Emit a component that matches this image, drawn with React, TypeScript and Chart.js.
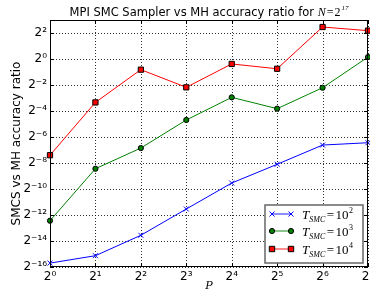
import React, { useEffect, useRef } from "react";
import { Chart, registerables } from "chart.js";

Chart.register(...registerables);

const pLabels = ["2⁰", "2¹", "2²", "2³", "2⁴", "2⁵", "2⁶", "2⁷"];
const yTicks = [-16, -14, -12, -10, -8, -6, -4, -2, 0, 2];
// log2 of the accuracy ratio
const log2RatioT2 = [-15.7, -15.13, -13.56, -11.54, -9.54, -8.1, -6.62, -6.44];
const log2RatioT3 = [-12.44, -8.44, -6.85, -4.69, -2.95, -3.82, -2.21, 0.15];
const log2RatioT4 = [-7.4, -3.34, -0.82, -2.18, -0.38, -0.75, 2.46, 2.18];
const seriesExp = ["2", "3", "4"];

const SUP: Record<string, string> = {
  "0": "⁰", "1": "¹", "2": "²", "3": "³", "4": "⁴", "5": "⁵", "6": "⁶", "7": "⁷", "8": "⁸", "9": "⁹", "-": "⁻",
};
const toSup = (s: string) => s.split("").map((c) => SUP[c] || c).join("");

type Seg = { t: string; f: string; dy?: number; gap?: number };
function drawSegs(ctx: CanvasRenderingContext2D, segs: Seg[], x: number, y: number, align: "left" | "center") {
  let total = 0;
  segs.forEach((s) => { ctx.font = s.f; total += ctx.measureText(s.t).width + (s.gap || 0); });
  let cx = align === "center" ? x - total / 2 : x;
  ctx.textAlign = "left";
  ctx.textBaseline = "alphabetic";
  segs.forEach((s) => {
    ctx.font = s.f;
    cx += (s.gap || 0);
    ctx.fillText(s.t, cx, y + (s.dy || 0));
    cx += ctx.measureText(s.t).width;
  });
}

const SERIF = '"Liberation Serif"';

const gridPlugin = {
  id: "dotgrid",
  beforeDatasetsDraw(chart: any) {
    const { ctx, chartArea: a, scales } = chart;
    ctx.save();
    ctx.strokeStyle = "rgba(0,0,0,0.8)";
    ctx.lineWidth = 1;
    ctx.setLineDash([1, 2]);
    pLabels.forEach((_, i) => {
      const x = Math.round(scales.x.getPixelForValue(i)) + 0.5;
      ctx.beginPath(); ctx.moveTo(x, a.top); ctx.lineTo(x, a.bottom); ctx.stroke();
    });
    yTicks.forEach((v) => {
      const y = Math.round(scales.y.getPixelForValue(v)) + 0.5;
      ctx.beginPath(); ctx.moveTo(a.left, y); ctx.lineTo(a.right, y); ctx.stroke();
    });
    ctx.restore();
  },
};

const decorPlugin = {
  id: "decor",
  afterDraw(chart: any) {
    const { ctx, chartArea: a, scales } = chart;
    ctx.save();
    // frame
    ctx.strokeStyle = "#000";
    ctx.lineWidth = 1;
    ctx.strokeRect(a.left + 0.5, a.top + 0.5, a.right - a.left - 1, a.bottom - a.top - 1);
    // inward ticks
    ctx.beginPath();
    pLabels.forEach((_, i) => {
      const x = Math.round(scales.x.getPixelForValue(i)) + 0.5;
      ctx.moveTo(x, a.bottom); ctx.lineTo(x, a.bottom - 4);
      ctx.moveTo(x, a.top); ctx.lineTo(x, a.top + 4);
    });
    yTicks.forEach((v) => {
      const y = Math.round(scales.y.getPixelForValue(v)) + 0.5;
      ctx.moveTo(a.left, y); ctx.lineTo(a.left + 4, y);
      ctx.moveTo(a.right, y); ctx.lineTo(a.right - 4, y);
    });
    ctx.stroke();
    // title
    ctx.fillStyle = "#000";
    drawSegs(ctx, [
      { t: "MPI SMC Sampler vs MH accuracy ratio for ", f: '11.5px "DejaVu Sans"' },
      { t: "N", f: `italic 12px ${SERIF}` },
      { t: "=", f: `12px ${SERIF}`, gap: 1 },
      { t: "2", f: `12px ${SERIF}`, gap: 1 },
      { t: "17", f: `italic 7px ${SERIF}`, dy: -6, gap: 1 },
    ], (a.left + a.right) / 2, 16, "center");
    // legend
    const lx = 265, ly = 205, lw = 98, lh = 58;
    ctx.fillStyle = "#fff";
    ctx.fillRect(lx, ly, lw, lh);
    ctx.strokeStyle = "#666";
    ctx.lineWidth = 1.5;
    ctx.strokeRect(lx, ly, lw, lh);
    const rows = [214, 231, 249];
    chart.data.datasets.forEach((ds: any, i: number) => {
      const y = rows[i];
      ctx.globalAlpha = 0.6;
      ctx.strokeStyle = ds.borderColor;
      ctx.lineWidth = 1.5;
      ctx.beginPath();
      ctx.moveTo(272, y);
      ctx.lineTo(291, y);
      ctx.stroke();
      ctx.globalAlpha = 1;
      [272, 291].forEach((px) => {
        ctx.fillStyle = ds.pointBackgroundColor;
        ctx.strokeStyle = ds.pointBorderColor;
        ctx.lineWidth = ds.pointBorderWidth;
        ctx.beginPath();
        if (ds.pointStyle === "rect") {
          const r = 2.7;
          ctx.rect(px - r, y - r, 2 * r, 2 * r);
          ctx.fill(); ctx.stroke();
        } else if (ds.pointStyle === "circle") {
          ctx.arc(px, y, ds.pointRadius, 0, Math.PI * 2);
          ctx.fill(); ctx.stroke();
        } else {
          const r = 2.5;
          ctx.moveTo(px - r, y - r); ctx.lineTo(px + r, y + r);
          ctx.moveTo(px - r, y + r); ctx.lineTo(px + r, y - r);
          ctx.stroke();
        }
      });
      ctx.fillStyle = "#000";
      drawSegs(ctx, [
        { t: "T", f: `italic 13px ${SERIF}` },
        { t: "SMC", f: `italic 8px ${SERIF}`, dy: 3 },
        { t: "=", f: `13px ${SERIF}`, gap: 1.5 },
        { t: "10", f: `13px ${SERIF}`, gap: 1.5 },
        { t: seriesExp[i], f: `8px ${SERIF}`, dy: -6, gap: 0.5 },
      ], 302, y + 5, "left");
    });
    ctx.restore();
  },
};

export default function App() {
  const ref = useRef<HTMLCanvasElement>(null);
  useEffect(() => {
    if (!ref.current) return;
    const mk = (data: number[], color: string, style: string, fill: string, border: string, r: number) => ({
      data,
      borderColor: color,
      borderWidth: 1,
      pointStyle: style,
      pointRadius: r,
      pointBackgroundColor: fill,
      pointBorderColor: border,
      pointBorderWidth: 1,
      fill: false,
      tension: 0,
    });
    const chart = new Chart(ref.current, {
      type: "line",
      data: {
        labels: pLabels,
        datasets: [
          mk(log2RatioT2, "#0000ff", "crossRot", "#0000ff", "#0000ff", 3.5),
          mk(log2RatioT3, "#008000", "circle", "#008000", "#000000", 2.6),
          mk(log2RatioT4, "#ff0000", "rect", "#ff0000", "#000000", 3.7),
        ] as any,
      },
      options: {
        animation: false,
        responsive: false,
        maintainAspectRatio: false,
        layout: { autoPadding: false, padding: { top: 20, right: 2, left: 0, bottom: 0 } },
        plugins: { legend: { display: false }, title: { display: false }, tooltip: { enabled: false } },
        elements: { line: { borderWidth: 1 } },
        scales: {
          x: {
            type: "category",
            offset: false,
            grid: { display: false, drawTicks: false },
            border: { display: false },
            ticks: { color: "#000", font: { family: "DejaVu Sans", size: 12 }, padding: 3, maxRotation: 0, autoSkip: false },
            title: { display: true, text: "P", color: "#000", font: { family: "DejaVu Serif", size: 11, style: "italic" }, padding: 0 },
            afterFit(scale: any) { scale.height = 26; scale.paddingLeft = 0; scale.paddingRight = 0; },
          },
          y: {
            type: "linear",
            min: -16,
            max: 3,
            afterBuildTicks(scale: any) { scale.ticks = yTicks.map((v) => ({ value: v })); },
            grid: { display: false, drawTicks: false },
            border: { display: false },
            ticks: {
              color: "#000",
              font: { family: "DejaVu Sans", size: 12 },
              padding: 3,
              callback: (v: any) => "2" + toSup(String(v)),
            },
            title: { display: true, text: "SMCS vs MH accuracy ratio", color: "#000", font: { family: "DejaVu Sans", size: 12 }, padding: { top: 10, bottom: 0 } },
            afterFit(scale: any) { scale.width = 50; scale.paddingTop = 0; scale.paddingBottom = 0; },
          },
        },
      },
      plugins: [gridPlugin, decorPlugin],
    } as any);
    return () => chart.destroy();
  }, []);
  return (
    <div style={{ position: "fixed", left: 0, top: 0, width: 370, height: 293, background: "#fff" }}>
      <canvas ref={ref} width={370} height={293} style={{ width: 370, height: 293 }} />
    </div>
  );
}
